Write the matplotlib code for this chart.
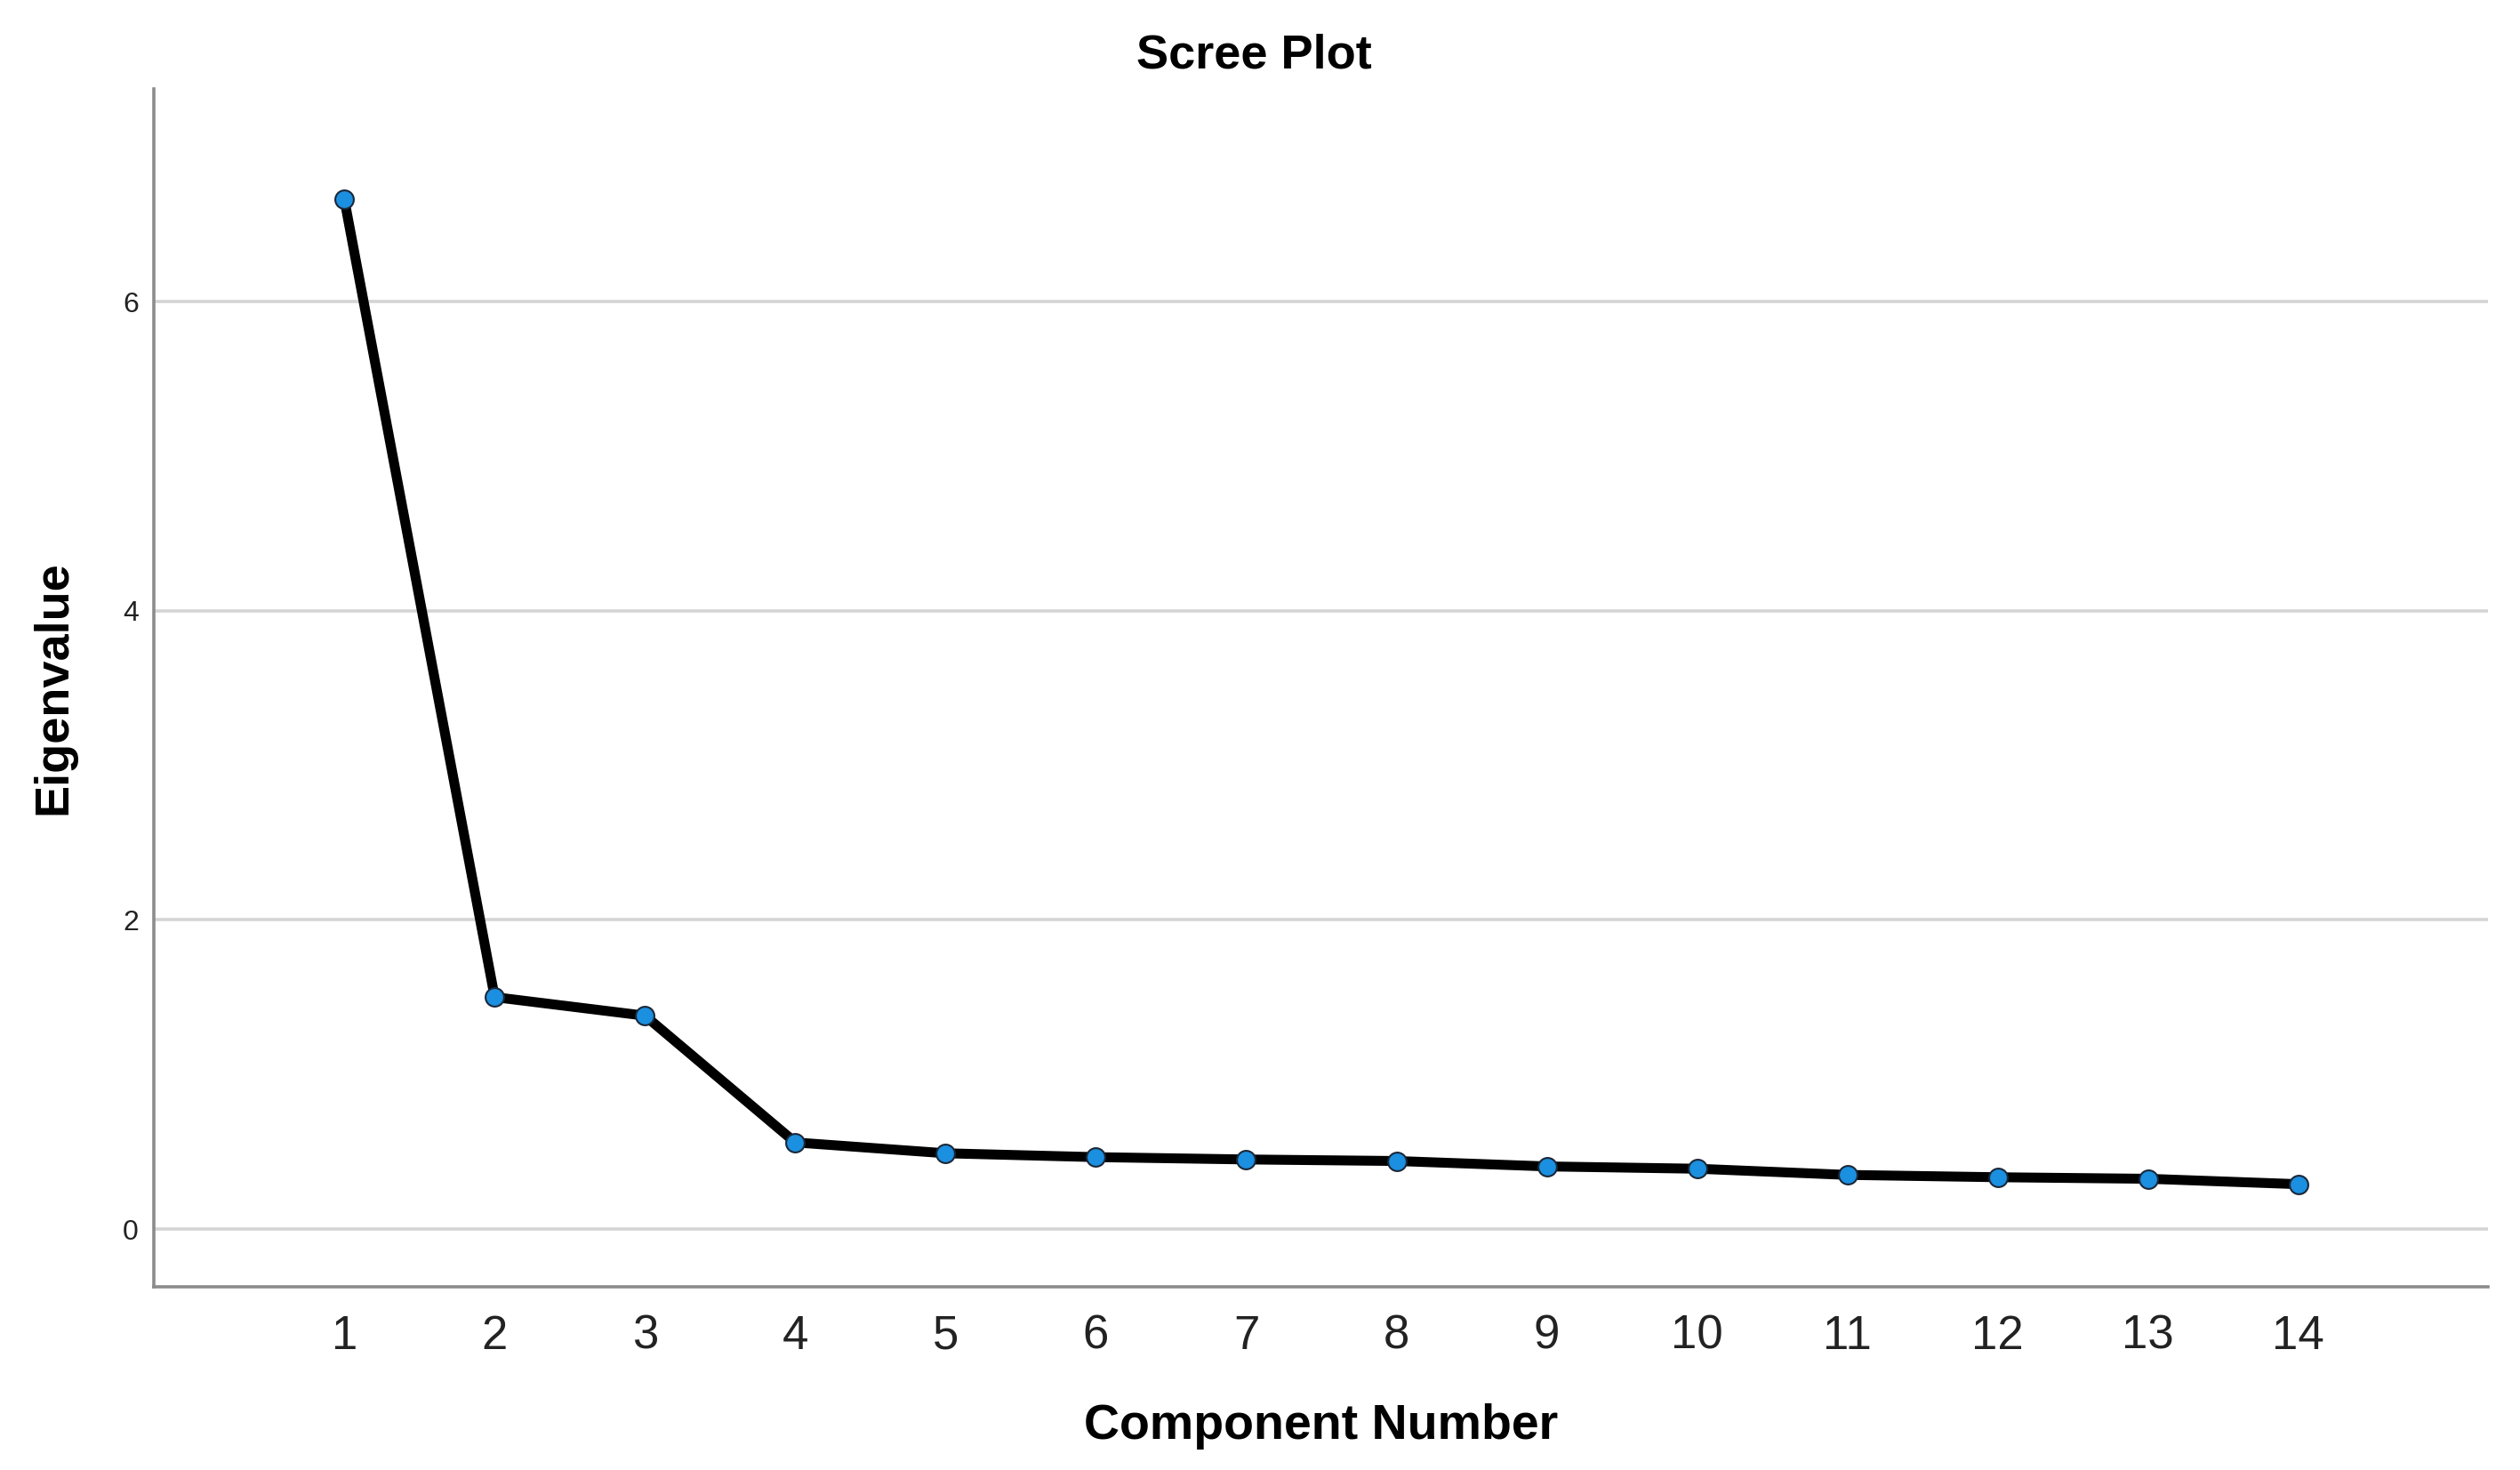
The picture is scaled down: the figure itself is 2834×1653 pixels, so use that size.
import numpy as np
import matplotlib.pyplot as plt

components = np.arange(1, 15)
eigenvalues = [6.66, 1.50, 1.38, 0.56, 0.49, 0.465, 0.45, 0.44, 0.405, 0.39, 0.35, 0.335, 0.325, 0.29]
y_ticks = [0, 2, 4, 6]

plt.rcParams['font.family'] = ['Liberation Sans', 'DejaVu Sans']

fig = plt.figure(figsize=(28.34, 16.53), dpi=100)
ax = fig.add_axes([0.0609, 0.1245, 0.9263, 0.815])

for yv in y_ticks:
    ax.axhline(yv, color='#d4d4d4', lw=2.6, zorder=1)

ax.plot(components, eigenvalues, color='black', lw=8, zorder=3,
        marker='o', markersize=15, markerfacecolor='#1b8fe0',
        markeredgecolor='#1a2738', markeredgewidth=1.5)

ax.set_xlim(-0.27, 15.26)
ax.set_ylim(-0.375, 7.375)
ax.set_xticks(components)
ax.set_yticks(y_ticks)
ax.tick_params(axis='x', length=0, pad=22, labelsize=38, labelcolor='#222222')
ax.tick_params(axis='y', length=0, pad=12, labelsize=23, labelcolor='#222222')

for side in ['top', 'right']:
    ax.spines[side].set_visible(False)
for side in ['left', 'bottom']:
    ax.spines[side].set_color('#8c8c8c')
    ax.spines[side].set_linewidth(2.6)

ax.set_xlabel('Component Number', fontsize=40, fontweight='bold', labelpad=36)
ax.set_ylabel('Eigenvalue', fontsize=39, fontweight='bold', labelpad=38)
fig.text(0.4975, 0.962, 'Scree Plot', ha='center', va='center', fontsize=39, fontweight='bold')

fig.savefig('out.png', dpi=100, facecolor='white')
